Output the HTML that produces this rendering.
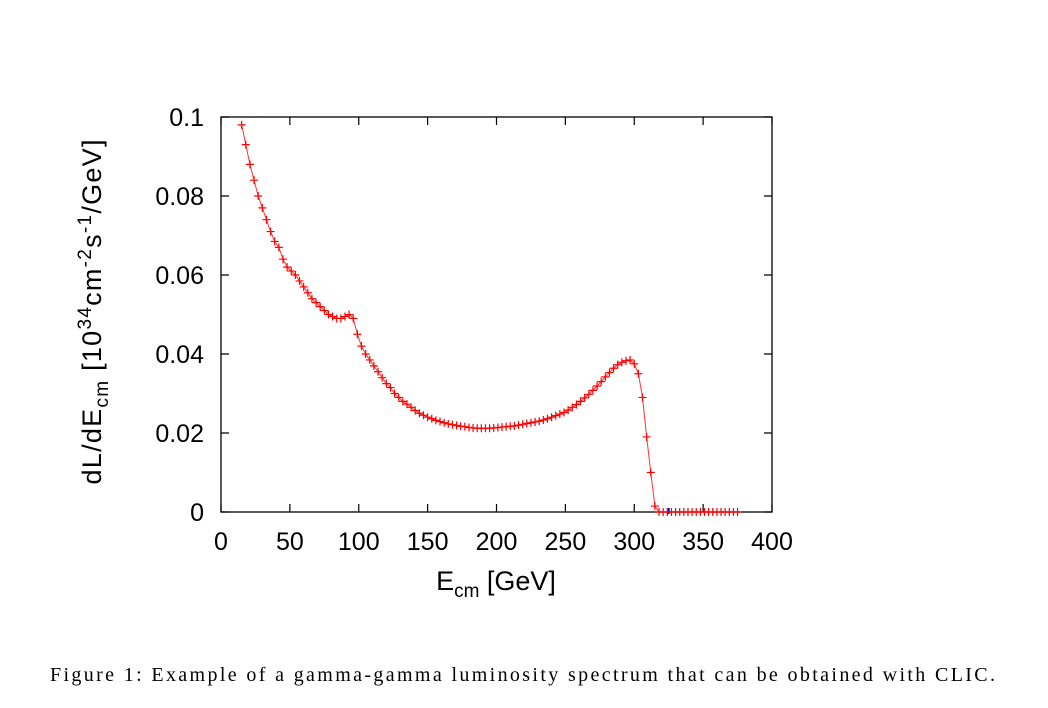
<!DOCTYPE html>
<html><head><meta charset="utf-8"><style>
body{margin:0;background:#fff;width:1048px;height:708px;overflow:hidden}
svg{display:block}
text{font-family:"Liberation Sans",Arial,sans-serif}
</style></head><body>
<svg id="chart" width="1048" height="708">
<g id="axes"></g>
<g id="series"></g>
<text x="496" y="590" text-anchor="middle" font-size="27">E<tspan font-size="19" dy="7">cm</tspan><tspan dy="-7"> [GeV]</tspan></text>
<text transform="translate(101,312) rotate(-90)" text-anchor="middle" font-size="27" textLength="345" lengthAdjust="spacing">dL/dE<tspan font-size="19" dy="7">cm</tspan><tspan dy="-7"> [10</tspan><tspan font-size="19" dy="-10">34</tspan><tspan dy="10">cm</tspan><tspan font-size="19" dy="-10">-2</tspan><tspan dy="10">s</tspan><tspan font-size="19" dy="-10">-1</tspan><tspan dy="10">/GeV]</tspan></text>
<text x="50" y="681" font-size="20" textLength="945" lengthAdjust="spacing" style="font-family:'Liberation Serif',serif">Figure 1: Example of a gamma-gamma luminosity spectrum that can be obtained with CLIC.</text>
</svg>
<script>
const xTicks=[0,50,100,150,200,250,300,350,400];
const yTicks=[0,0.02,0.04,0.06,0.08,0.1];
const yTickLabels=["0","0.02","0.04","0.06","0.08","0.1"];
const energies=[];for(let e=15;e<=378;e+=3)energies.push(e);
const lumi=[98,93,88,84,80,77,74,71,68.5,67,64,62,61,60,58.5,57,55.5,54,53,52,51,50,49.5,49,49,49.5,50,49,45,42,40,38.5,37,35.5,34,32.5,31.5,30,29,28,27.3,26.5,25.7,25,24.5,24,23.6,23.2,22.9,22.6,22.3,22.1,21.9,21.7,21.6,21.4,21.3,21.2,21.2,21.2,21.2,21.3,21.4,21.5,21.6,21.7,21.8,22,22.2,22.4,22.6,22.8,23,23.3,23.6,24,24.4,24.8,25.2,25.8,26.5,27.2,28,28.9,29.8,30.8,31.9,33,34.2,35.3,36.4,37.3,37.9,38.3,38.5,37.5,35,29,19,10,1.5,0,0,0,0,0,0,0,0,0,0,0,0,0,0,0,0,0,0,0,0].map(v=>v/1000);
const L=221,R=772,T=117,B=512;
const sx=v=>L+(v-0)/(400-0)*(R-L);
const sy=v=>B-(v-0)/(0.1-0)*(B-T);
const NS="http://www.w3.org/2000/svg";
function mk(tag,attrs,parent){const el=document.createElementNS(NS,tag);for(const k in attrs)el.setAttribute(k,attrs[k]);parent.appendChild(el);return el;}
const axes=document.getElementById('axes');
const frame=mk('rect',{x:L,y:T,width:R-L,height:B-T,fill:'none',stroke:'#000','stroke-width':1.3},axes);


xTicks.forEach(t=>{
 const x=sx(t);
 const tk=mk('path',{d:`M${x},${B}v-8M${x},${T}v8`,stroke:'#000','stroke-width':1.2},axes);
 
 
 const lb=mk('text',{x:x,y:B+38,'text-anchor':'middle','font-size':25},axes);
 lb.textContent=t;
 
 
});
yTicks.forEach((t,i)=>{
 const y=sy(t);
 const tk=mk('path',{d:`M${L},${y}h8M${R},${y}h-8`,stroke:'#000','stroke-width':1.2},axes);
 
 
 const lb=mk('text',{x:L-17,y:y+9,'text-anchor':'end','font-size':25},axes);
 lb.textContent=yTickLabels[i];
 
 
});
const blue=mk('path',{d:`M${sx(325)},${B-4}v6`,stroke:'#00c','stroke-width':2},axes);


const g=document.getElementById('series');
const pts=energies.map((e,i)=>[sx(e),sy(lumi[i])]);
const line=mk('polyline',{points:pts.map(p=>p.join(',')).join(' '),fill:'none',stroke:'#f33','stroke-width':1},g);


pts.forEach(p=>{
 const m=mk('path',{d:`M${p[0]-4},${p[1]}h8M${p[0]},${p[1]-4}v8`,stroke:'#f00','stroke-width':1.2},g);
 
 
});
</script>
</body></html>
